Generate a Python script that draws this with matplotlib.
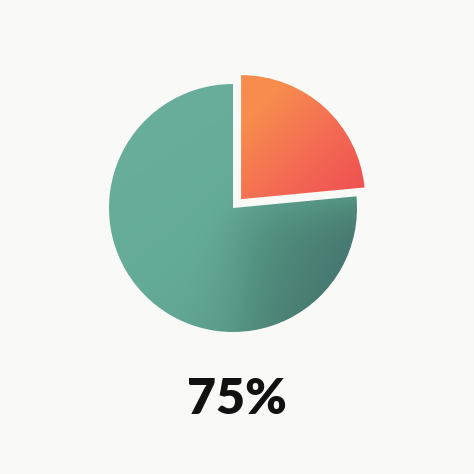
import numpy as np
import matplotlib
matplotlib.use("Agg")
import matplotlib.pyplot as plt
from matplotlib.colors import LinearSegmentedColormap

# Data
labels = ["Main", "Rest"]
values = [76.5, 23.5]
headline = "75%"

BG = "#f9f9f7"
fig = plt.figure(figsize=(4.74, 4.74), dpi=100, facecolor=BG)
ax = fig.add_axes([0, 0, 1, 1])

R = 124
cx, cy = 233, 266
wedges, _ = ax.pie(values, startangle=90, counterclock=True, radius=R,
                   center=(cx, cy), explode=[0, 12],
                   wedgeprops=dict(facecolor="none", edgecolor="none"),
                   frame=True)
ax.set_xlim(0, 474)
ax.set_ylim(0, 474)
ax.set_aspect("equal")
ax.axis("off")
ax.set_facecolor(BG)

# gradient fields
n = 400
xs = np.linspace(cx - R - 30, cx + R + 30, n)
ys = np.linspace(cy - R - 30, cy + R + 30, n)
X, Y = np.meshgrid(xs, ys)
dx, dy = (X - cx) / R, (Y - cy) / R

def sig(z):
    return 1 / (1 + np.exp(-z))

teal = LinearSegmentedColormap.from_list(
    "teal", [(0, "#70b29e"), (0.4, "#64ab96"), (0.7, "#52907f"), (1, "#46766e")])
t = 0.38 + 0.08 * dx - 0.12 * dy
t = t + 0.5 * sig(dx / 0.12) * sig((0.05 - dy) / 0.12) * (0.45 + 0.55 * np.clip(dx, 0, 1))
t = np.clip(t, 0, 1)
im1 = ax.imshow(t, cmap=teal, vmin=0, vmax=1, origin="lower",
                extent=(xs[0], xs[-1], ys[0], ys[-1]), interpolation="bilinear", zorder=2)
im1.set_clip_path(wedges[0])

orange = LinearSegmentedColormap.from_list("org", ["#f78c4d", "#f36853", "#ef4b51"])
s = np.clip(0.35 + 0.6 * dx - 0.6 * dy, 0, 1)
im2 = ax.imshow(s, cmap=orange, vmin=0, vmax=1, origin="lower",
                extent=(xs[0], xs[-1], ys[0], ys[-1]), interpolation="bilinear", zorder=2)
im2.set_clip_path(wedges[1])

ax.text(237, 474 - 400, headline, ha="center", va="center", fontsize=36,
        fontweight="heavy", family=["Lato", "DejaVu Sans"], color="#111111")

fig.savefig("out.png", dpi=100, facecolor=BG)
